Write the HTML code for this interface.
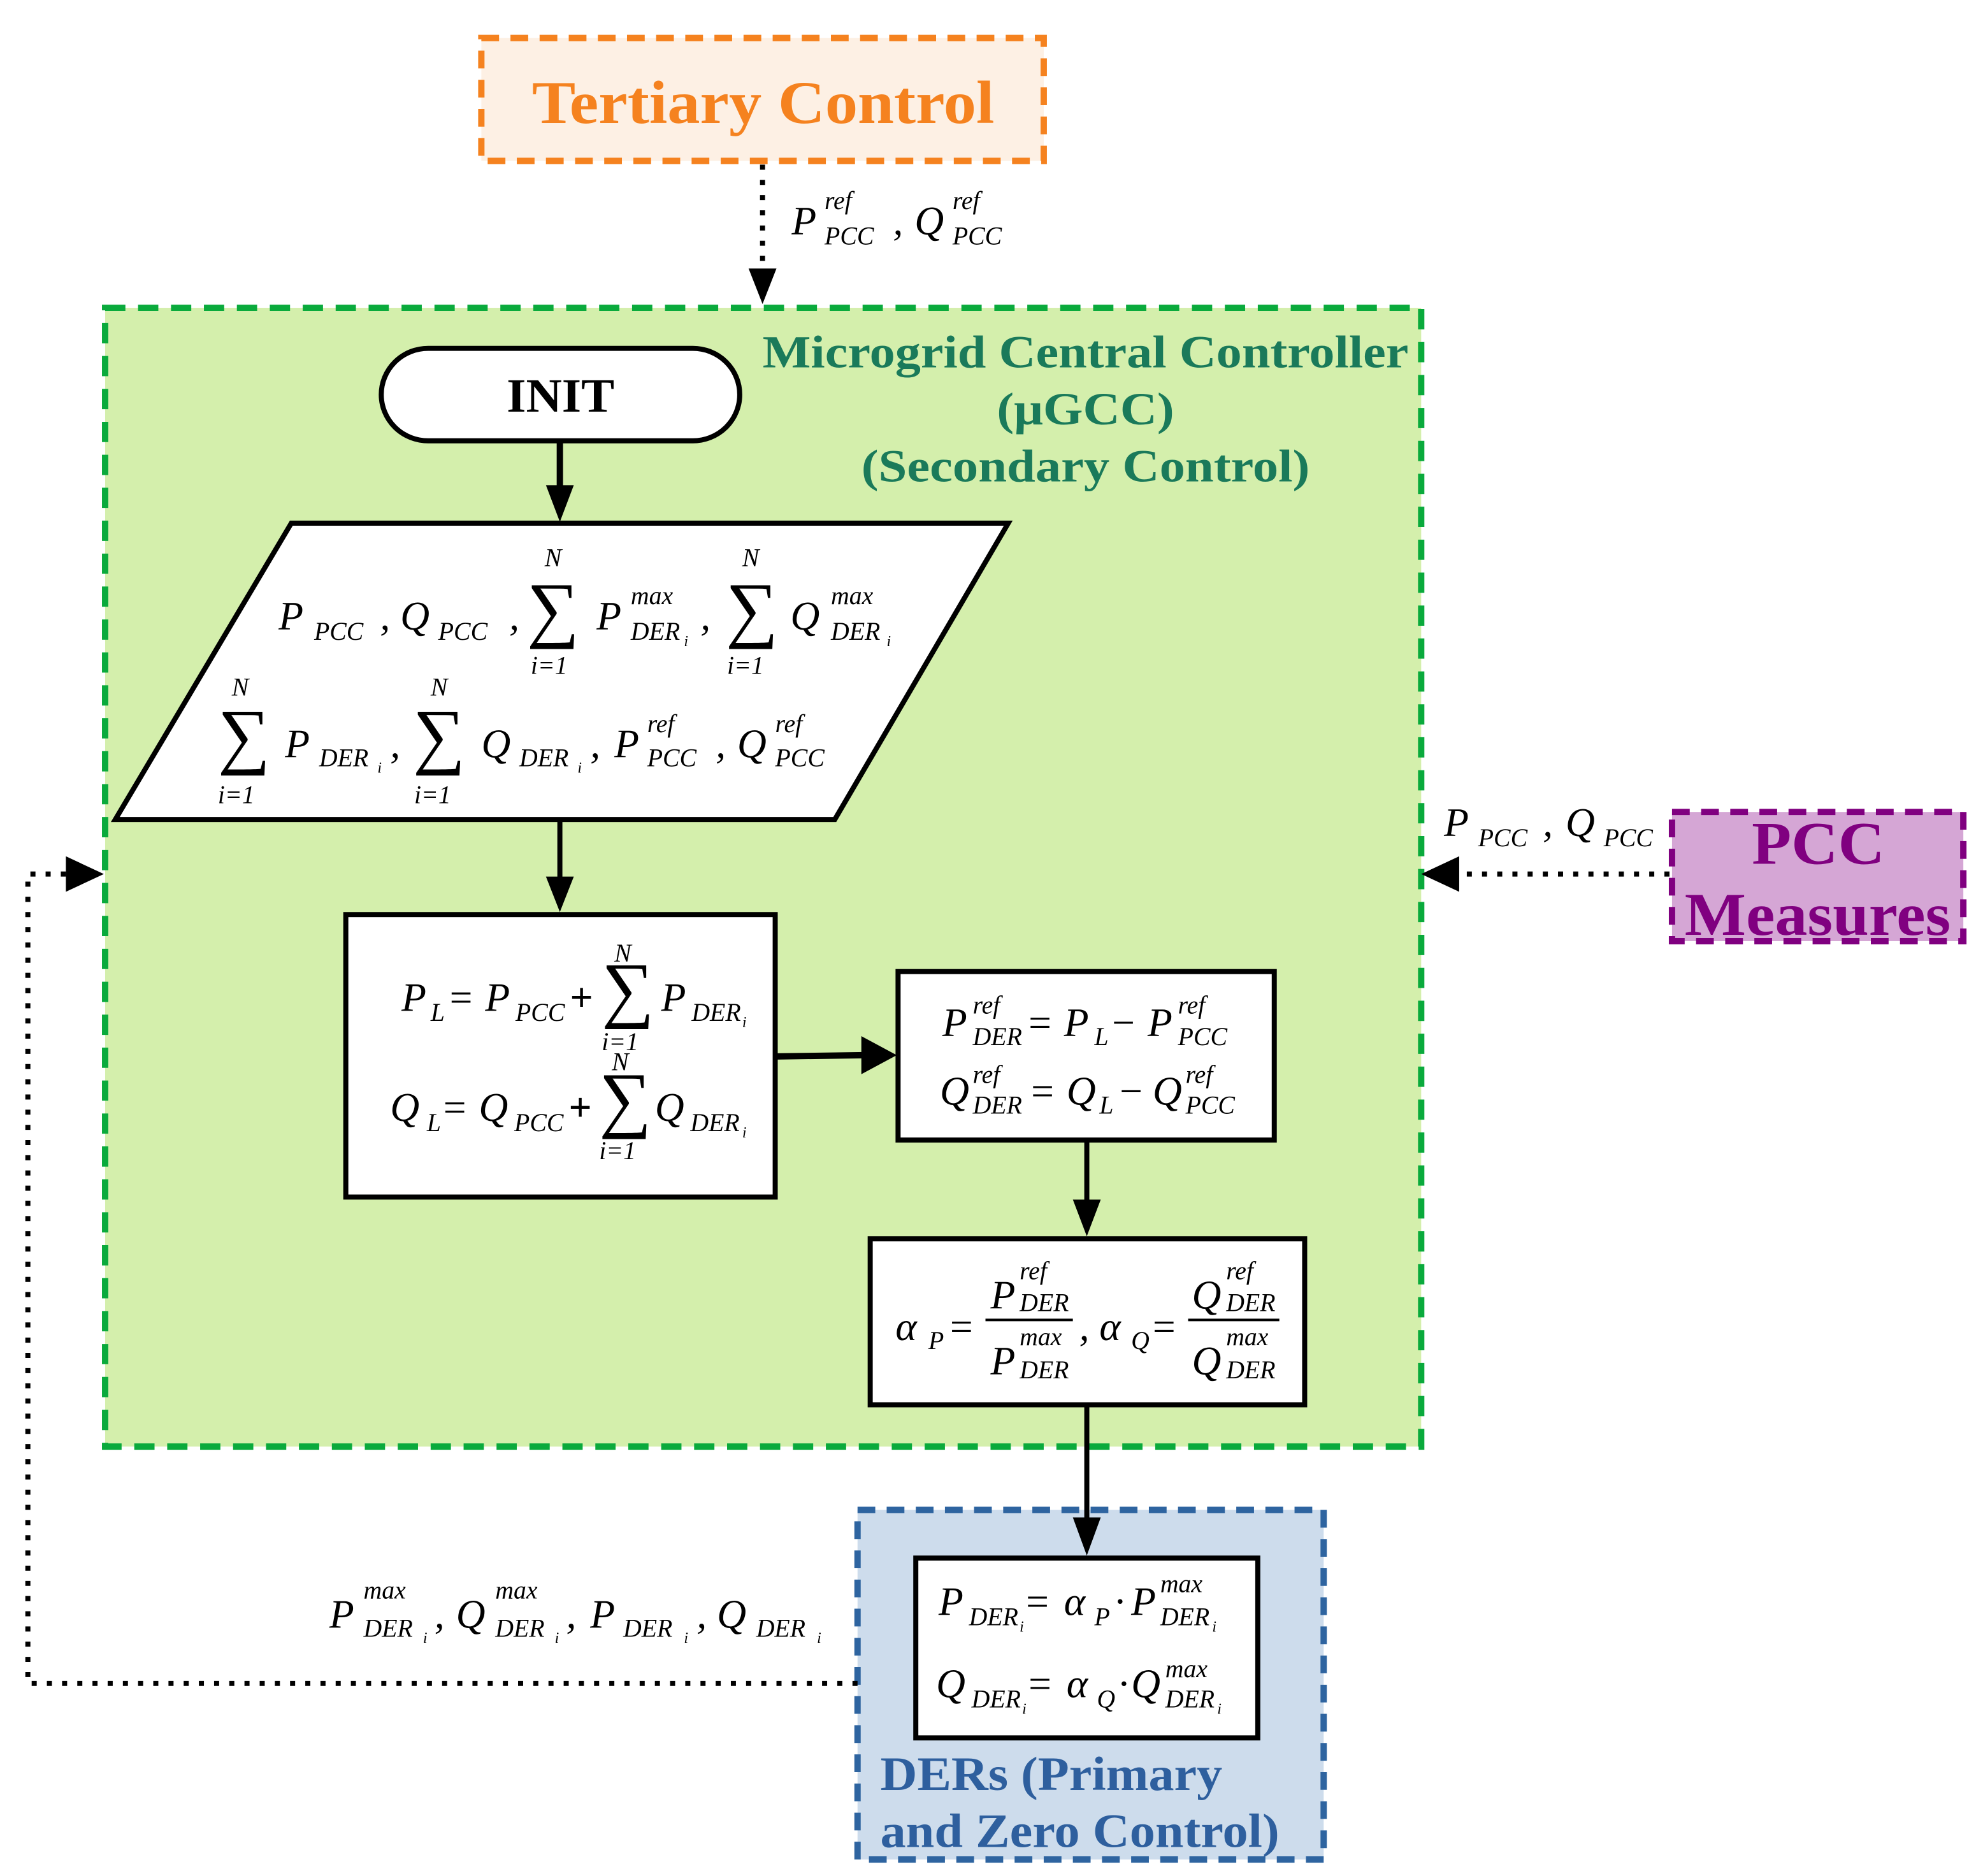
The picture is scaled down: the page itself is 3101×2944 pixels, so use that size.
<!DOCTYPE html>
<html><head><meta charset="utf-8"><style>
html,body{margin:0;padding:0;background:#fff;}
svg{display:block;}
.m{font-family:"Liberation Serif",serif;font-style:italic;font-size:32px;fill:#000;}
.s{font-family:"Liberation Serif",serif;font-style:italic;font-size:20px;fill:#000;}
.t{font-family:"Liberation Serif",serif;font-style:italic;font-size:12px;fill:#000;}
.sg{font-family:"Liberation Serif",serif;font-size:58px;fill:#000;}
.op{font-family:"Liberation Serif",serif;font-size:32px;fill:#000;}
.b{font-family:"Liberation Serif",serif;font-weight:bold;}
</style></head><body>
<svg width="3101" height="2944" viewBox="0 0 1560 1481" xmlns="http://www.w3.org/2000/svg">
<!-- Tertiary -->
<rect x="380" y="30" width="444" height="97" fill="#fdf0e4" stroke="#f5821f" stroke-width="5" stroke-dasharray="14,9"/>
<text x="420" y="97" textLength="365" lengthAdjust="spacingAndGlyphs" class="b" font-size="48" fill="#f5821f">Tertiary Control</text>
<line x1="602" y1="130" x2="602" y2="215" stroke="#000" stroke-width="4" stroke-dasharray="4,8"/>
<path d="M591,212 L613,212 L602,240 z" fill="#000"/>
<text class="m" x="625" y="185">P</text><text class="s" x="651" y="165">ref</text><text class="s" x="651" y="193">PCC</text>
<text class="m" x="705" y="185">,</text><text class="m" x="722" y="185">Q</text><text class="s" x="752" y="165">ref</text><text class="s" x="752" y="193">PCC</text>
<!-- Green -->
<rect x="83" y="243" width="1039" height="899" fill="#d4efac" stroke="#0aaa3c" stroke-width="5" stroke-dasharray="16,10"/>
<g class="b" font-size="36" fill="#1a7a5a">
<text x="602" y="290" textLength="510" lengthAdjust="spacingAndGlyphs">Microgrid Central Controller</text>
<text x="787" y="335" textLength="140" lengthAdjust="spacingAndGlyphs">(μGCC)</text>
<text x="680" y="380" textLength="354" lengthAdjust="spacingAndGlyphs">(Secondary Control)</text>
</g>
<rect x="301" y="275" width="283" height="73" rx="37" fill="#fff" stroke="#000" stroke-width="4"/>
<text x="400" y="325" textLength="85" lengthAdjust="spacingAndGlyphs" class="b" font-size="38">INIT</text>
<line x1="442" y1="348" x2="442" y2="385" stroke="#000" stroke-width="5"/>
<path d="M431,383 L453,383 L442,412 z" fill="#000"/>
<polygon points="230,413 796,413 659,647 91,647" fill="#fff" stroke="#000" stroke-width="4"/>
<!-- parallelogram line 1 -->
<text class="m" x="220" y="497">P</text><text class="s" x="248" y="505">PCC</text><text class="m" x="300" y="497">,</text>
<text class="m" x="316" y="497">Q</text><text class="s" x="346" y="505">PCC</text><text class="m" x="402" y="497">,</text>
<text class="sg" x="416" y="500">∑</text><text class="s" x="430" y="447">N</text><text class="s" x="419" y="532">i=1</text>
<text class="m" x="471" y="497">P</text><text class="s" x="498" y="477">max</text><text class="s" x="498" y="505">DER</text><text class="t" x="540" y="510">i</text><text class="m" x="553" y="497">,</text>
<text class="sg" x="573" y="500">∑</text><text class="s" x="586" y="447">N</text><text class="s" x="574" y="532">i=1</text>
<text class="m" x="624" y="497">Q</text><text class="s" x="656" y="477">max</text><text class="s" x="656" y="505">DER</text><text class="t" x="700" y="510">i</text>
<!-- line 2 -->
<text class="sg" x="172" y="600">∑</text><text class="s" x="183" y="549">N</text><text class="s" x="172" y="634">i=1</text>
<text class="m" x="225" y="598">P</text><text class="s" x="252" y="605">DER</text><text class="t" x="298" y="610">i</text><text class="m" x="308" y="598">,</text>
<text class="sg" x="326" y="600">∑</text><text class="s" x="340" y="549">N</text><text class="s" x="327" y="634">i=1</text>
<text class="m" x="380" y="598">Q</text><text class="s" x="410" y="605">DER</text><text class="t" x="456" y="610">i</text><text class="m" x="466" y="598">,</text>
<text class="m" x="485" y="598">P</text><text class="s" x="511" y="578">ref</text><text class="s" x="511" y="605">PCC</text><text class="m" x="565" y="598">,</text>
<text class="m" x="582" y="598">Q</text><text class="s" x="612" y="578">ref</text><text class="s" x="612" y="605">PCC</text>
<line x1="442" y1="647" x2="442" y2="695" stroke="#000" stroke-width="4"/>
<path d="M431,692 L453,692 L442,720 z" fill="#000"/>
<!-- Box1 -->
<rect x="273" y="722" width="339" height="223" fill="#fff" stroke="#000" stroke-width="4"/>
<text class="m" x="317" y="798">P</text><text class="s" x="340" y="806">L</text><text class="op" x="355" y="798">=</text>
<text class="m" x="383" y="798">P</text><text class="s" x="407" y="806">PCC</text><text class="op b" x="450" y="798">+</text>
<text class="sg" x="475" y="800">∑</text><text class="s" x="485" y="759">N</text><text class="s" x="475" y="829">i=1</text>
<text class="m" x="522" y="798">P</text><text class="s" x="546" y="806">DER</text><text class="t" x="586" y="811">i</text>
<text class="m" x="308" y="885">Q</text><text class="s" x="337" y="893">L</text><text class="op" x="350" y="885">=</text>
<text class="m" x="378" y="885">Q</text><text class="s" x="406" y="893">PCC</text><text class="op b" x="449" y="885">+</text>
<text class="sg" x="473" y="887">∑</text><text class="s" x="483" y="845">N</text><text class="s" x="473" y="915">i=1</text>
<text class="m" x="517" y="885">Q</text><text class="s" x="545" y="893">DER</text><text class="t" x="586" y="898">i</text>
<line x1="612" y1="834" x2="682" y2="833" stroke="#000" stroke-width="5"/>
<path d="M680,818 L708,833 L680,848 z" fill="#000"/>
<!-- Box2 -->
<rect x="709" y="767" width="297" height="133" fill="#fff" stroke="#000" stroke-width="4"/>
<text class="m" x="744" y="818">P</text><text class="s" x="768" y="800">ref</text><text class="s" x="768" y="825">DER</text><text class="op" x="812" y="818">=</text>
<text class="m" x="840" y="818">P</text><text class="s" x="864" y="825">L</text><text class="op" x="878" y="818">−</text>
<text class="m" x="906" y="818">P</text><text class="s" x="930" y="800">ref</text><text class="s" x="930" y="825">PCC</text>
<text class="m" x="742" y="872">Q</text><text class="s" x="768" y="855">ref</text><text class="s" x="768" y="879">DER</text><text class="op" x="814" y="872">=</text>
<text class="m" x="842" y="872">Q</text><text class="s" x="868" y="879">L</text><text class="op" x="884" y="872">−</text>
<text class="m" x="910" y="872">Q</text><text class="s" x="936" y="855">ref</text><text class="s" x="936" y="879">PCC</text>
<line x1="858" y1="900" x2="858" y2="950" stroke="#000" stroke-width="4"/>
<path d="M847,947 L869,947 L858,976 z" fill="#000"/>
<!-- Box3 -->
<rect x="687" y="978" width="343" height="131" fill="#fff" stroke="#000" stroke-width="4"/>
<text class="m" x="707" y="1058">α</text><text class="s" x="733" y="1065">P</text><text class="op" x="750" y="1058">=</text>
<text class="m" x="782" y="1033">P</text><text class="s" x="805" y="1010">ref</text><text class="s" x="805" y="1035">DER</text>
<line x1="778" y1="1042" x2="847" y2="1042" stroke="#000" stroke-width="2"/>
<text class="m" x="782" y="1085">P</text><text class="s" x="805" y="1062">max</text><text class="s" x="805" y="1088">DER</text>
<text class="m" x="852" y="1058">,</text>
<text class="m" x="868" y="1058">α</text><text class="s" x="893" y="1065">Q</text><text class="op" x="910" y="1058">=</text>
<text class="m" x="941" y="1033">Q</text><text class="s" x="968" y="1010">ref</text><text class="s" x="968" y="1035">DER</text>
<line x1="938" y1="1042" x2="1010" y2="1042" stroke="#000" stroke-width="2"/>
<text class="m" x="941" y="1085">Q</text><text class="s" x="968" y="1062">max</text><text class="s" x="968" y="1088">DER</text>
<!-- Blue -->
<rect x="677" y="1192" width="368" height="276" fill="#cddcec" stroke="#2e64a0" stroke-width="5" stroke-dasharray="14,9"/>
<line x1="858" y1="1109" x2="858" y2="1200" stroke="#000" stroke-width="4"/>
<path d="M847,1198 L869,1198 L858,1228 z" fill="#000"/>
<rect x="723" y="1230" width="270" height="142" fill="#fff" stroke="#000" stroke-width="4"/>
<text class="m" x="741" y="1275">P</text><text class="s" x="765" y="1283">DER</text><text class="t" x="805" y="1288">i</text><text class="op" x="810" y="1275">=</text>
<text class="m" x="840" y="1275">α</text><text class="s" x="864" y="1283">P</text><text class="op" x="879" y="1275">·</text>
<text class="m" x="893" y="1275">P</text><text class="s" x="916" y="1257">max</text><text class="s" x="916" y="1283">DER</text><text class="t" x="957" y="1288">i</text>
<text class="m" x="739" y="1340">Q</text><text class="s" x="767" y="1348">DER</text><text class="t" x="807" y="1353">i</text><text class="op" x="812" y="1340">=</text>
<text class="m" x="842" y="1340">α</text><text class="s" x="866" y="1348">Q</text><text class="op" x="882" y="1340">·</text>
<text class="m" x="893" y="1340">Q</text><text class="s" x="920" y="1324">max</text><text class="s" x="920" y="1348">DER</text><text class="t" x="961" y="1353">i</text>
<g class="b" font-size="38" fill="#2e5f9e">
<text x="695" y="1413" textLength="270" lengthAdjust="spacingAndGlyphs">DERs (Primary</text>
<text x="695" y="1458" textLength="315" lengthAdjust="spacingAndGlyphs">and Zero Control)</text>
</g>
<!-- PCC -->
<rect x="1320" y="641" width="230" height="102" fill="#d5a6d5" stroke="#800080" stroke-width="5" stroke-dasharray="14,9"/>
<g class="b" font-size="48" fill="#800080">
<text x="1383" y="682" textLength="105" lengthAdjust="spacingAndGlyphs">PCC</text>
<text x="1330" y="738" textLength="210" lengthAdjust="spacingAndGlyphs">Measures</text>
</g>
<line x1="1318" y1="690" x2="1150" y2="690" stroke="#000" stroke-width="4" stroke-dasharray="4,8"/>
<path d="M1152,676 L1152,704 L1122,690 z" fill="#000"/>
<text class="m" x="1140" y="660">P</text><text class="s" x="1167" y="668">PCC</text><text class="m" x="1218" y="660">,</text>
<text class="m" x="1236" y="660">Q</text><text class="s" x="1266" y="668">PCC</text>
<!-- Feedback -->
<polyline points="677,1329 22,1329 22,690 52,690" fill="none" stroke="#000" stroke-width="4" stroke-dasharray="4,8"/>
<path d="M52,676 L52,704 L82,690 z" fill="#000"/>
<text class="m" x="260" y="1285">P</text><text class="s" x="287" y="1262">max</text><text class="s" x="287" y="1292">DER</text><text class="t" x="334" y="1297">i</text><text class="m" x="343" y="1285">,</text>
<text class="m" x="360" y="1285">Q</text><text class="s" x="391" y="1262">max</text><text class="s" x="391" y="1292">DER</text><text class="t" x="438" y="1297">i</text><text class="m" x="447" y="1285">,</text>
<text class="m" x="466" y="1285">P</text><text class="s" x="492" y="1292">DER</text><text class="t" x="540" y="1297">i</text><text class="m" x="550" y="1285">,</text>
<text class="m" x="566" y="1285">Q</text><text class="s" x="597" y="1292">DER</text><text class="t" x="645" y="1297">i</text>
</svg>
</body></html>
